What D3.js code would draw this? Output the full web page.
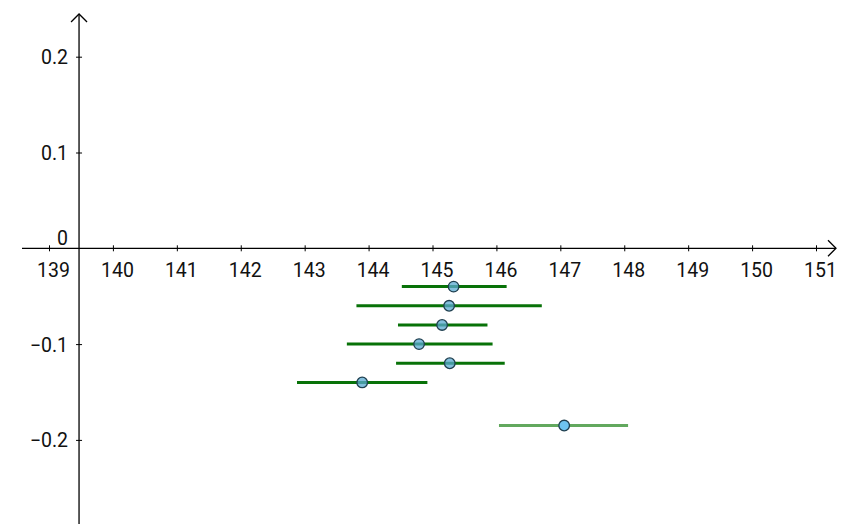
<!DOCTYPE html>
<html><head><meta charset="utf-8">
<script src="https://cdn.jsdelivr.net/npm/d3@7"></script>
<style>body{margin:0;background:#fff}svg{display:block}</style>
</head><body>
<svg id="c" width="852" height="524"></svg>
<script>
const xTicks = [139,140,141,142,143,144,145,146,147,148,149,150,151];
const yTicks = [0.2,0.1,-0.1,-0.2];
const yVals  = [-0.04,-0.06,-0.08,-0.10,-0.12,-0.14,-0.185];
const centers= [145.33,145.26,145.15,144.79,145.27,143.90,147.06];
const lows   = [144.52,143.81,144.46,143.66,144.43,142.88,146.04];
const highs  = [146.16,146.71,145.86,145.94,146.13,144.92,148.06];
const highlight = [false,false,false,false,false,false,true];

const svg = d3.select("#c");
const x = d3.scaleLinear().domain([139,151]).range([49,816]);
const y = d3.scaleLinear().domain([0,0.2]).range([248.3,56.7]);
const font = "Roboto, 'Liberation Sans', Arial, sans-serif";
const fs = 19.5;
const x0 = x(139.47);

// x axis
const xa = svg.append("g").attr("transform",`translate(0,${y(0)})`)
  .call(d3.axisBottom(x).tickValues(xTicks).tickSize(0).tickFormat(d3.format("d")));
xa.select(".domain").remove();
xa.selectAll(".tick").append("line").attr("y1",-3).attr("y2",3).attr("stroke","#000");
xa.selectAll("text").attr("font-family",font).attr("font-size",fs).attr("fill","#111")
  .attr("dy",0).attr("y",28.5).attr("dx",4);
svg.append("line").attr("x1",22).attr("x2",836).attr("y1",y(0)).attr("y2",y(0)).attr("stroke","#000").attr("stroke-width",1.3);
svg.append("path").attr("d",`M${828},${y(0)-8}L${836},${y(0)}L${828},${y(0)+8}`).attr("fill","none").attr("stroke","#000").attr("stroke-width",1.3);

// y axis
const ya = svg.append("g").attr("transform",`translate(${x0},0)`)
  .call(d3.axisLeft(y).tickValues(yTicks).tickSize(0).tickFormat(d=>d3.format(".1f")(d)));
ya.select(".domain").remove();
ya.selectAll(".tick").append("line").attr("x1",-3).attr("x2",3).attr("stroke","#000");
ya.selectAll("text").attr("font-family",font).attr("font-size",fs).attr("fill","#111").attr("x",-11).attr("dy","0.36em");
svg.append("line").attr("x1",x0).attr("x2",x0).attr("y1",14).attr("y2",524).attr("stroke","#000").attr("stroke-width",1.3);
svg.append("path").attr("d",`M${x0-8},${22}L${x0},${14}L${x0+8},${22}`).attr("fill","none").attr("stroke","#000").attr("stroke-width",1.3);
svg.append("text").attr("x",x0-11).attr("y",y(0)-3).attr("text-anchor","end")
  .attr("font-family",font).attr("font-size",fs).attr("fill","#111").text("0");

// intervals
const data = yVals.map((v,i)=>({y:v,c:centers[i],lo:lows[i],hi:highs[i],h:highlight[i]}));
svg.append("g").selectAll("line").data(data).join("line")
  .attr("x1",d=>x(d.lo)).attr("x2",d=>x(d.hi)).attr("y1",d=>y(d.y)).attr("y2",d=>y(d.y))
  .attr("stroke",d=>d.h?"#62a85e":"#087208").attr("stroke-width",3);
svg.append("g").selectAll("circle").data(data).join("circle")
  .attr("cx",d=>x(d.c)).attr("cy",d=>y(d.y)).attr("r",5.3)
  .attr("fill",d=>d.h?"#6ec3f0":"rgba(90,170,210,0.75)")
  .attr("stroke","#1f3f4f").attr("stroke-width",1.3);
</script>
</body></html>
